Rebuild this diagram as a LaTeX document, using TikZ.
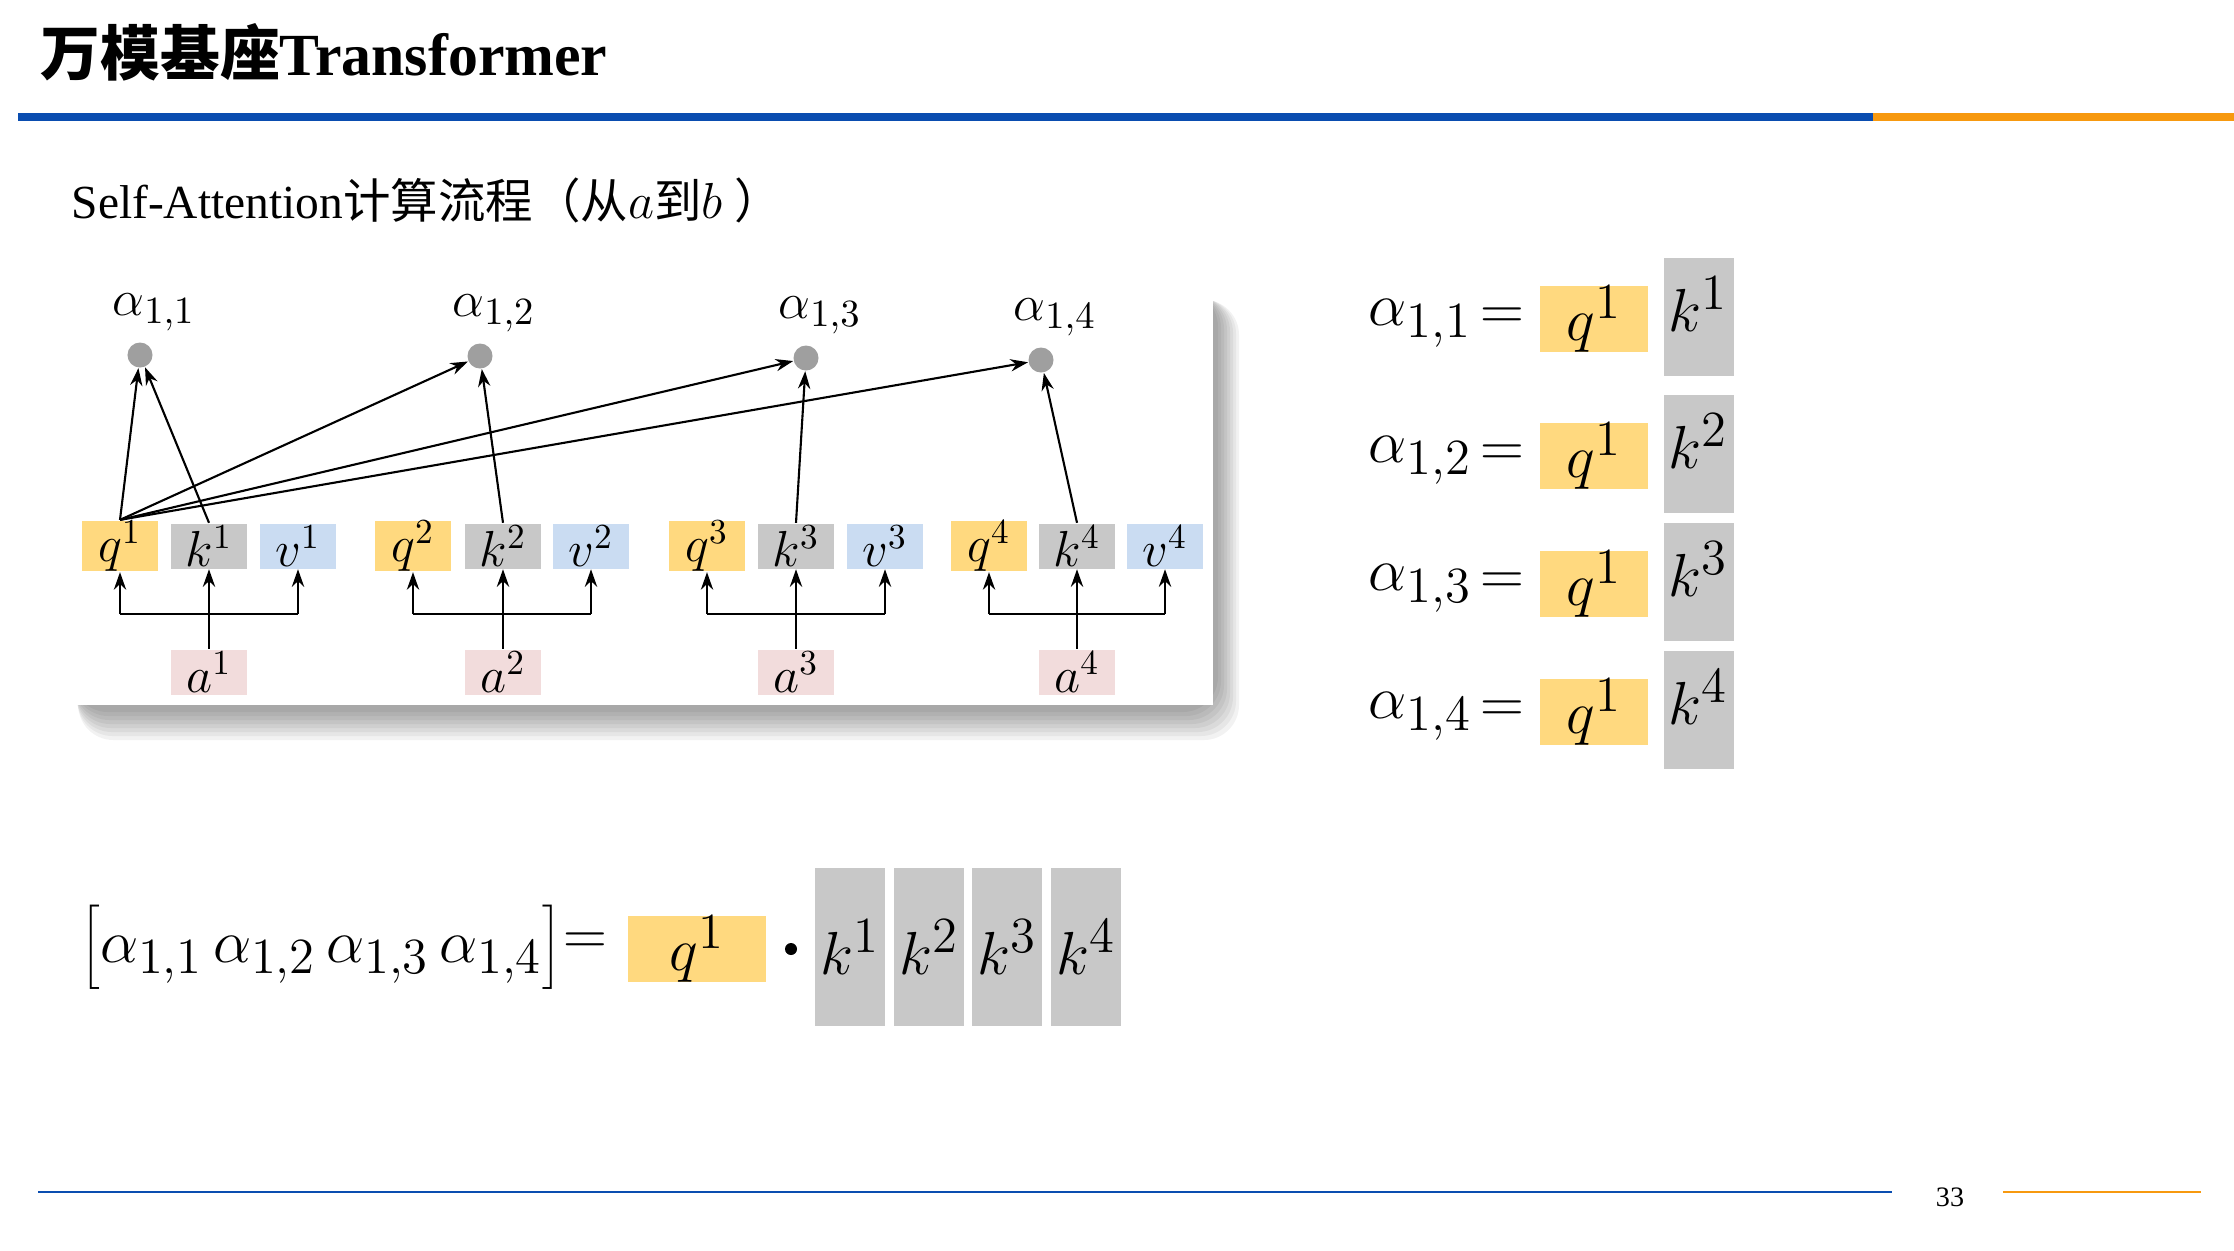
\documentclass[tikz,border=0pt]{standalone}
\usepackage{fontspec}
\setmainfont{Liberation Serif}
\newfontfamily\cjk{Noto Sans CJK SC}
\usetikzlibrary{arrows.meta}
\definecolor{qy}{HTML}{FFD97F}
\definecolor{kg}{HTML}{C8C8C8}
\definecolor{vb}{HTML}{CADCF2}
\definecolor{ap}{HTML}{F2DCDC}
\definecolor{bl}{HTML}{0A4DB0}
\definecolor{og}{HTML}{F7990F}
\begin{document}
\begin{tikzpicture}[x=0.01cm,y=-0.01cm,
  sb/.style={minimum width=0.75cm,minimum height=0.45cm,inner sep=0pt,font=\fontsize{14}{16}\selectfont},
  q/.style={sb,fill=qy},k/.style={sb,fill=kg},v/.style={sb,fill=vb},a/.style={sb,fill=ap},
  dot/.style={circle,fill=gray!75,minimum size=0.25cm,inner sep=0pt},
  arr/.style={-{Stealth[length=5pt,width=3.5pt]},line width=0.6pt},
  mid/.style={font=\fontsize{19}{22}\selectfont}]
\useasboundingbox (0,0) rectangle (2234,1250);
% header
\node[anchor=base west,inner sep=0pt,font=\fontsize{17}{20}\selectfont\bfseries] (title) at (40,75) {{\cjk 万模基座}Transformer};
\fill[bl] (18,113) rectangle (1873,121);
\fill[og] (1873,113) rectangle (2234,121);
\node[anchor=west,inner sep=0pt,font=\fontsize{13.5}{16}\selectfont] (sub) at (71,200) {Self-Attention{\cjk 计算流程（从}$a${\cjk 到}$b$ {\cjk ）}};
% panel shadow (soft, layered)
\foreach \s in {36,32,28,24,20,16,12,8}{
  \fill[black,opacity=0.05,rounded corners=10pt] (71+\s*0.2,289+\s*0.3) rectangle (1212+\s*0.75,704+\s);
}
\node[fill=white,minimum width=11.41cm,minimum height=4.15cm,anchor=north west,inner sep=0pt] (panel) at (71,289) {};
\foreach \i/\xq/\xk/\xv/\xd/\yd in {1/120/209/298/140/355,2/413/503/591/480/356,3/707/796/885/806/358,4/989/1077/1165/1041/360}{
  \node[q] (q\i) at (\xq,546) {$q^{\i}$};
  \node[k] (k\i) at (\xk,546) {$k^{\i}$};
  \node[v] (v\i) at (\xv,546) {$v^{\i}$};
  \node[a] (a\i) at (\xk,672) {$a^{\i}$};
  \node[dot] (d\i) at (\xd,\yd) {};
  \node[font=\fontsize{15}{17}\selectfont,anchor=south] (l\i) at (\xd+14,\yd-12) {$\alpha_{1,\i}$};
  \coordinate (b\i) at (\xq,614);
  \coordinate (c\i) at (\xv,614);
  \draw[line width=0.8pt] (b\i) -- (c\i);
  \draw[arr] (b\i) -- (q\i.south);
  \draw[arr] (c\i) -- (v\i.south);
  \draw[arr] (a\i.north) -- (k\i.south);
  \draw[arr] (k\i.north) -- (d\i);
  \draw[arr] (q1.north) -- (d\i);
}
% right equations
\foreach \i/\y in {1/319,2/456,3/584,4/712}{
  \node[mid,inner sep=0pt,anchor=west] (e\i) at (1368,\y+4) {$\alpha_{1,\i}$};
  \node[mid,inner sep=0pt] (eq\i) at (1502,\y) {$=$};
  \node[fill=qy,minimum width=1.07cm,minimum height=0.63cm,inner sep=0pt,mid] (rq\i) at (1594,\y) {$q^1$};
  \node[fill=kg,minimum width=0.70cm,minimum height=1.17cm,inner sep=0pt,mid,anchor=west] (rk\i) at (1663,\y-2) {$k^{\i}$\raisebox{-0.25cm}{}};
}
% bottom
\node[mid,inner sep=0pt,anchor=west] (row) at (81,947) {$\left[\alpha_{1,1}\,\alpha_{1,2}\,\alpha_{1,3}\,\alpha_{1,4}\right]$};
\node[mid,inner sep=0pt] (beq) at (585,944) {$=$};
\node[fill=qy,minimum width=1.38cm,minimum height=0.60cm,inner sep=0pt,mid] (bq) at (697,949) {$q^1$};
\node[circle,fill=black,minimum size=0.12cm,inner sep=0pt] (bdot) at (791,949) {};
\foreach \i/\x in {1/850,2/929,3/1007,4/1086}{
  \node[fill=kg,minimum width=0.70cm,minimum height=1.57cm,inner sep=0pt,mid] (bk\i) at (\x,947) {$k^{\i}$};
}
% footer
\draw[bl,line width=0.7pt] (38,1192) -- (1892,1192);
\draw[og,line width=0.7pt] (2003,1192) -- (2201,1192);
\node[font=\fontsize{8}{10}\selectfont] (pg) at (1950,1197) {33};
\end{tikzpicture}
\end{document}
